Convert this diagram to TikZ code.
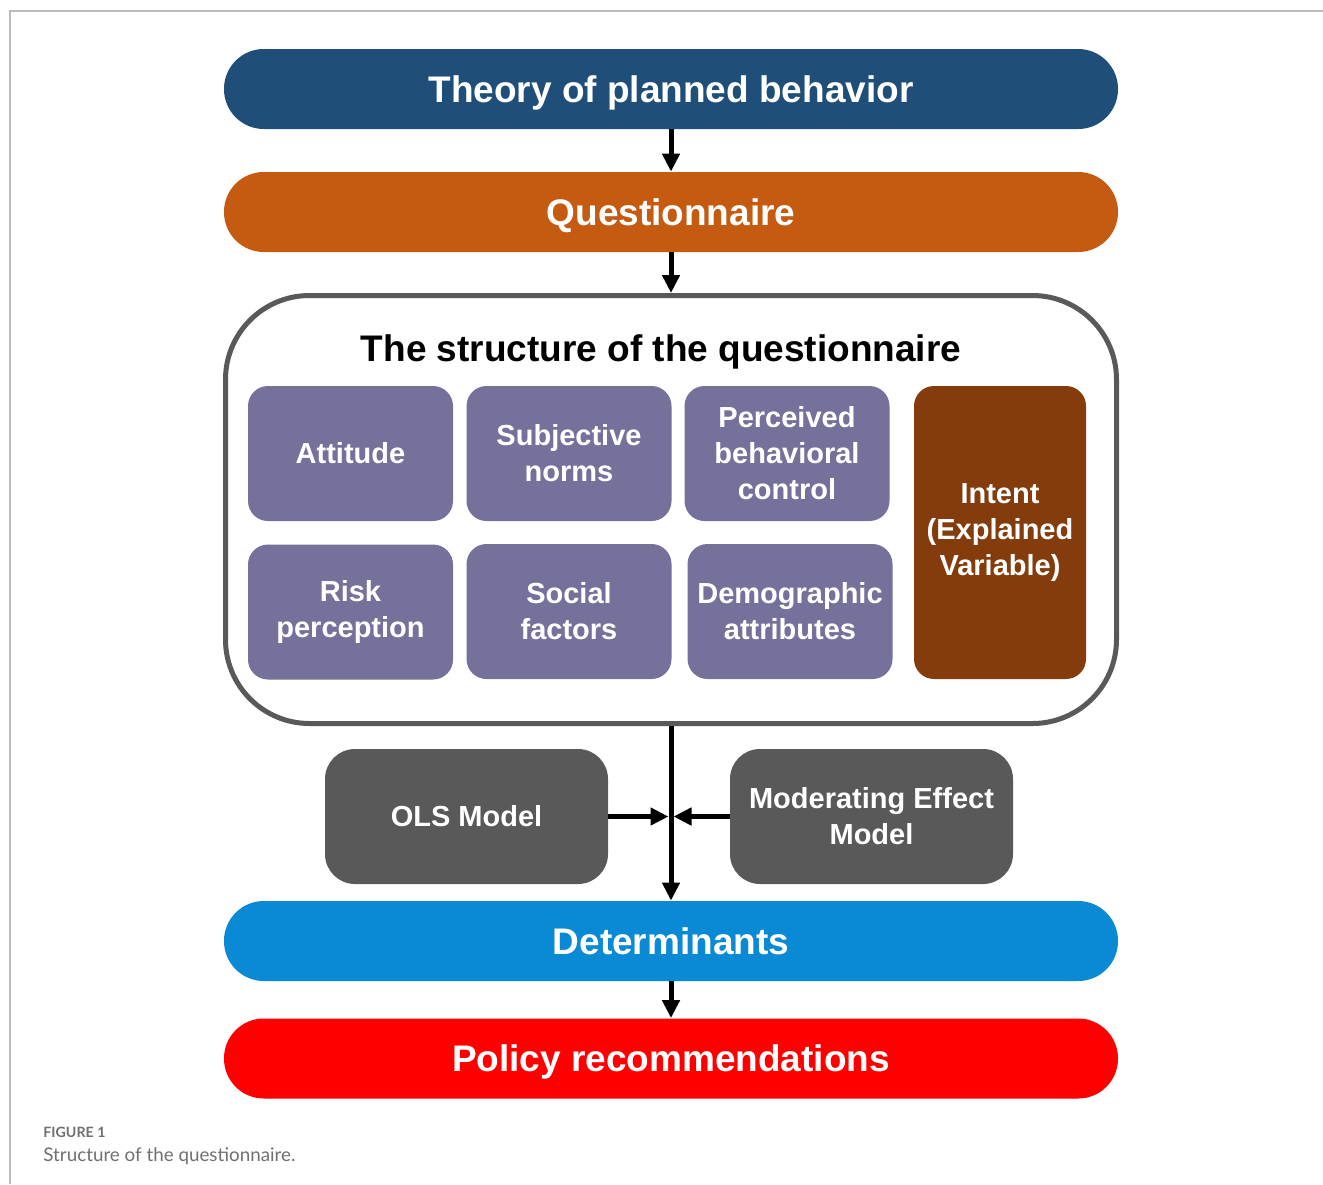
\documentclass[tikz,border=0pt]{standalone}
\usepackage{fontspec}
\setmainfont{Liberation Sans}
\newfontfamily\lato{Lato}
\usetikzlibrary{arrows.meta}
\definecolor{cTPB}{HTML}{1F4E79}
\definecolor{cQ}{HTML}{C55A11}
\definecolor{cPur}{HTML}{76719B}
\definecolor{cInt}{HTML}{843C0C}
\definecolor{cGray}{HTML}{595959}
\definecolor{cDet}{HTML}{0A89D4}
\definecolor{cPol}{HTML}{FF0000}
\definecolor{cFrame}{HTML}{BBBBBB}
\definecolor{cCap}{HTML}{707070}
\tikzset{
  bar/.style={draw=none, rounded corners=19.9pt, minimum width=447pt, minimum height=40pt,
    text=white, font=\bfseries\fontsize{18.5}{22}\selectfont, inner sep=0pt, text depth=0pt},
  pbox/.style={fill=cPur, draw=none, rounded corners=10pt, minimum width=102.5pt, minimum height=67.5pt,
    text=white, align=center, font=\bfseries\fontsize{14.5}{18}\selectfont, inner sep=0pt},
  gbox/.style={fill=cGray, draw=none, rounded corners=15pt, minimum width=141.5pt, minimum height=67.5pt,
    text=white, align=center, font=\bfseries\fontsize{14.5}{18}\selectfont, inner sep=0pt},
  arr/.style={line width=2.5pt, -{Triangle[length=9pt,width=8.5pt]}},
}
\begin{document}
\begin{tikzpicture}[x=0.5pt,y=-0.5pt]
\useasboundingbox (0,0) rectangle (1323,1184);
\fill[white] (0,0) rectangle (1323,1184);
\draw[cFrame, line width=1pt] (1323,11) -- (10,11) -- (10,1184);

\node[bar, fill=cTPB] (tpb) at (671,89) {Theory of planned behavior};
\node[bar, fill=cQ] (q) at (671,212) {Questionnaire};

\node[draw=cGray, line width=2.5pt, fill=white, rounded corners=42pt,
  minimum width=445.5pt, minimum height=214pt, inner sep=0pt] (struct) at (671,509.5) {};
\node[font=\bfseries\fontsize{18.5}{22}\selectfont, inner sep=0pt, text depth=0pt] (title) at (661,348) {The structure of the questionnaire};

\node[pbox] (att) at (350.5,453.5) {Attitude};
\node[pbox] (sn) at (569,453.5) {Subjective\\norms};
\node[pbox] (pbc) at (787,453.5) {Perceived\\behavioral\\control};
\node[pbox] (risk) at (350.5,612) {Risk\\perception};
\node[pbox] (soc) at (569,611.5) {Social\\factors};
\node[pbox] (demo) at (790,611.5) {Demographic\\attributes};
\node[pbox, fill=cInt, minimum width=86pt, minimum height=146.5pt] (int) at (1000,532.5) {\raisebox{-1.2pt}{\parbox{80pt}{\centering Intent\\(Explained\\Variable)}}};

\node[gbox] (ols) at (466.5,816.5) {OLS Model};
\node[gbox] (mod) at (871.5,816.5) {Moderating Effect\\Model};

\node[bar, fill=cDet] (det) at (671,941) {Determinants};
\node[bar, fill=cPol] (pol) at (671,1058.5) {Policy recommendations};

\draw[arr] (tpb.south) -- (q.north);
\draw[arr] (q.south) -- (struct.north);
\draw[arr] (struct.south) -- (det.north);
\draw[arr, shorten >=1.25pt] (ols.east) -- (ols.east -| det.north);
\draw[arr, shorten >=1.25pt] (mod.west) -- (mod.west -| det.north);
\draw[arr] (det.south) -- (pol.north);

\node[anchor=base west, inner sep=0pt, text=cCap, font=\lato\bfseries\fontsize{7.1}{8}\selectfont] (figlab) at (43,1137) {FIGURE 1};
\node[anchor=base west, inner sep=0pt, text=cCap, font=\lato\fontsize{9.4}{11}\selectfont] (cap) at (43,1161) {Structure of the questionnaire.};
\end{tikzpicture}
\end{document}
